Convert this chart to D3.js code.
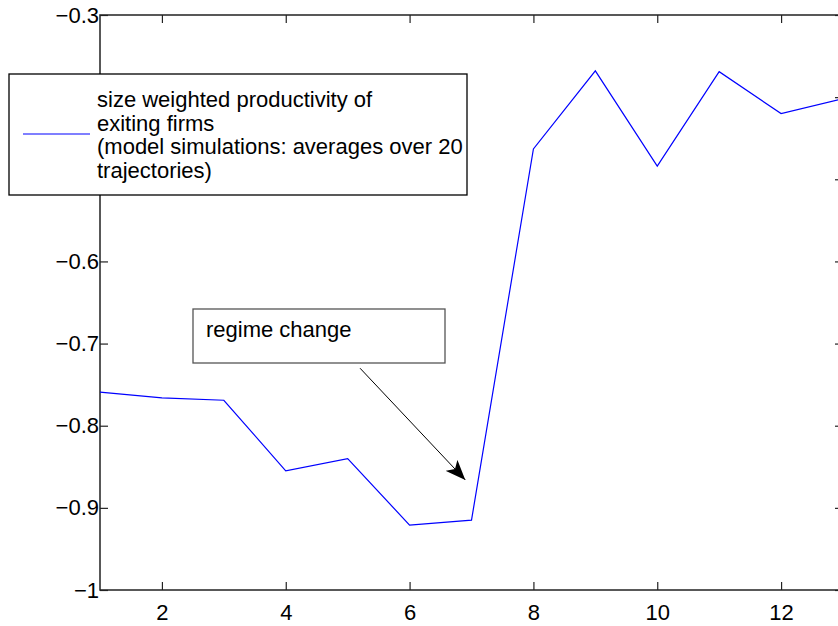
<!DOCTYPE html>
<html>
<head>
<meta charset="utf-8">
<script src="https://cdn.jsdelivr.net/npm/d3@7"></script>
<style>
  body { margin: 0; background: #fff; }
  text { font-family: "Liberation Sans", Arial, sans-serif; fill: #000; }
</style>
</head>
<body>
<div id="chart"></div>
<script>
// model simulation: size weighted productivity of exiting firms
var periods = [1, 2, 3, 4, 5, 6, 7, 8, 9, 10, 11, 12, 13];
var productivity = [-0.759, -0.766, -0.769, -0.855, -0.840, -0.921, -0.915,
                    -0.463, -0.368, -0.484, -0.369, -0.420, -0.402];
var xTicks = [2, 4, 6, 8, 10, 12];
var yTicks = [-1, -0.9, -0.8, -0.7, -0.6, -0.5, -0.4, -0.3];
var legendLines = ["size weighted productivity of", "exiting firms",
                   "(model simulations: averages over 20", "trajectories)"];
var annotation = "regime change";
var arrowFrom = [5.2, -0.73];
var arrowTo = [6.9, -0.866];

var width = 838, height = 626;
var plotLeft = 100, plotRight = 843, plotTop = 15, plotBottom = 590;
var fontSize = 22;

var svg = d3.select("#chart")
    .append("svg")
    .attr("width", width)
    .attr("height", height);

var x = d3.scaleLinear().domain([1, 13]).range([plotLeft, plotRight]);
var y = d3.scaleLinear().domain([-1, -0.3]).range([plotBottom, plotTop]);

var fmt = function(d) { return d3.format("")(d).replace(/[-\u2212]/, "\u2212"); };

// axes box with inward ticks on all four sides
var axisStyle = function(g) {
  g.select(".domain").remove();
  g.selectAll("line").attr("stroke", "#222").attr("stroke-width", 1.2);
  g.selectAll("text").style("font-size", fontSize + "px").attr("fill", "#000");
};

svg.append("g")
    .attr("transform", `translate(0,${plotBottom})`)
    .call(d3.axisBottom(x).tickValues(xTicks).tickSize(-8).tickPadding(14).tickFormat(fmt))
    .call(axisStyle);

svg.append("g")
    .attr("transform", `translate(0,${plotTop})`)
    .call(d3.axisTop(x).tickValues(xTicks).tickSize(-8).tickFormat(""))
    .call(axisStyle);

svg.append("g")
    .attr("transform", `translate(${plotLeft},0)`)
    .call(d3.axisLeft(y).tickValues(yTicks).tickSize(-8).tickPadding(1).tickFormat(fmt))
    .call(axisStyle);

svg.append("g")
    .attr("transform", `translate(${plotRight},0)`)
    .call(d3.axisRight(y).tickValues(yTicks).tickSize(-8).tickFormat(""))
    .call(axisStyle);

svg.append("rect")
    .attr("x", plotLeft).attr("y", plotTop)
    .attr("width", plotRight - plotLeft).attr("height", plotBottom - plotTop)
    .attr("fill", "none")
    .attr("stroke", "#222")
    .attr("stroke-width", 1.5);

// data line
var line = d3.line()
    .x(function(d, i) { return x(periods[i]); })
    .y(function(d) { return y(d); });

svg.append("path")
    .datum(productivity)
    .attr("d", line)
    .attr("fill", "none")
    .attr("stroke", "#0000ff")
    .attr("stroke-width", 1.2);

// annotation arrow
svg.append("defs").append("marker")
    .attr("id", "head")
    .attr("viewBox", "0 0 20 16")
    .attr("refX", 20).attr("refY", 8)
    .attr("markerWidth", 20).attr("markerHeight", 16)
    .attr("markerUnits", "userSpaceOnUse")
    .attr("orient", "auto")
    .append("path")
    .attr("d", "M0,0 L20,8 L0,16 L5,8 Z")
    .attr("fill", "#000");

svg.append("line")
    .attr("x1", x(arrowFrom[0])).attr("y1", y(arrowFrom[1]))
    .attr("x2", x(arrowTo[0])).attr("y2", y(arrowTo[1]))
    .attr("stroke", "#000")
    .attr("stroke-width", 1)
    .attr("marker-end", "url(#head)");

// regime change text box
var note = svg.append("g");
note.append("rect")
    .attr("x", 193).attr("y", 309)
    .attr("width", 252).attr("height", 54)
    .attr("fill", "#fff")
    .attr("stroke", "#555")
    .attr("stroke-width", 1.3);
note.append("text")
    .attr("x", 206).attr("y", 337)
    .style("font-size", fontSize + "px")
    .text(annotation);

// legend
var legend = svg.append("g");
legend.append("rect")
    .attr("x", 9).attr("y", 74)
    .attr("width", 458).attr("height", 121)
    .attr("fill", "#fff")
    .attr("stroke", "#000")
    .attr("stroke-width", 1.3);
legend.append("line")
    .attr("x1", 23).attr("x2", 90)
    .attr("y1", 134).attr("y2", 134)
    .attr("stroke", "#0000ff")
    .attr("stroke-width", 1.2);
legend.selectAll("text.leg")
    .data(legendLines)
    .enter()
    .append("text")
    .attr("class", "leg")
    .attr("x", 97)
    .attr("y", function(d, i) { return 107 + i * 23.5; })
    .style("font-size", fontSize + "px")
    .text(function(d) { return d; });
</script>
</body>
</html>
